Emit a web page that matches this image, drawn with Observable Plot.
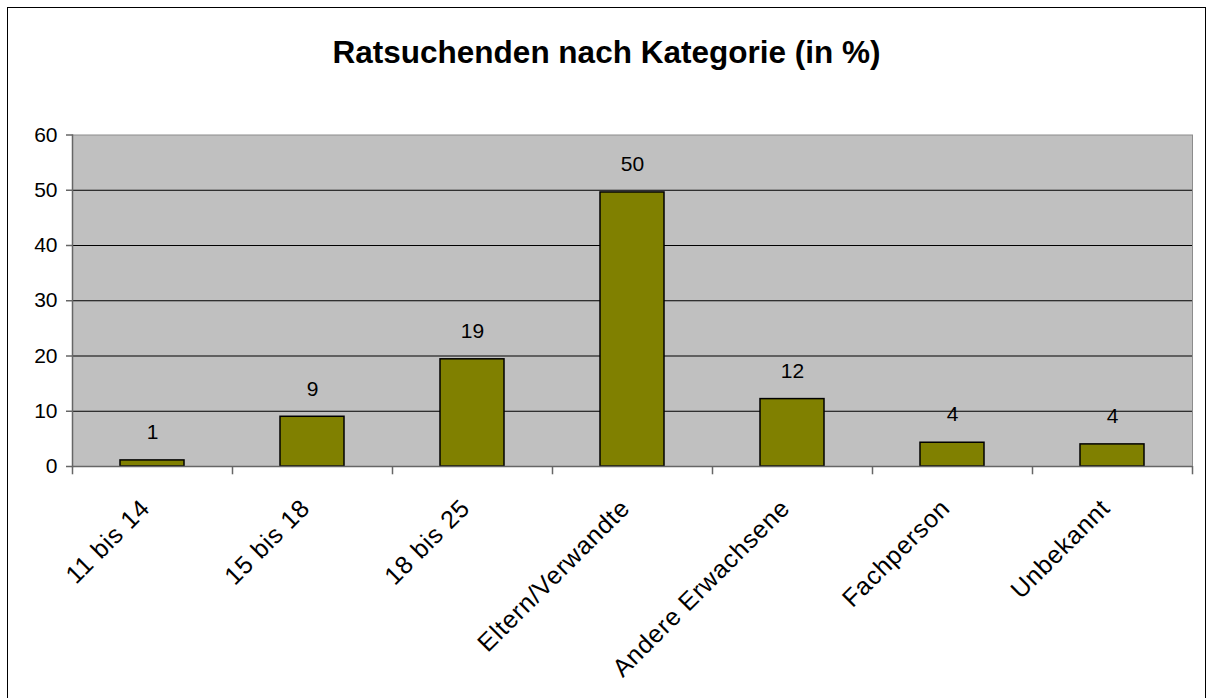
<!DOCTYPE html>
<html>
<head>
<meta charset="utf-8">
<script src="https://cdn.jsdelivr.net/npm/d3@7"></script>
<script src="https://cdn.jsdelivr.net/npm/@observablehq/plot@0.6"></script>
<style>
  html, body { margin: 0; padding: 0; background: #fff; overflow: hidden; }
  #wrap { position: relative; width: 1215px; height: 698px; font-family: "Liberation Sans", Arial, sans-serif; }
  #border { position: absolute; left: 7px; top: 7px; width: 1199px; height: 720px; border: 1.5px solid #000; box-sizing: border-box; }
  #title { position: absolute; left: 7px; width: 1199px; top: 34px; line-height: 36px; text-align: center; font-weight: bold; font-size: 31.5px; color: #000; }
  #chart { position: absolute; left: 0; top: 0; }
  .xlab text { letter-spacing: 0.8px; }
</style>
</head>
<body>
<div id="wrap">
  <div id="border"></div>
  <div id="title">Ratsuchenden nach Kategorie (in %)</div>
  <div id="chart"></div>
</div>
<script>
const categories = ["11 bis 14", "15 bis 18", "18 bis 25", "Eltern/Verwandte", "Andere Erwachsene", "Fachperson", "Unbekannt"];
const values = [1.1, 9.0, 19.4, 49.6, 12.2, 4.3, 4.0];
const yTicks = [0, 10, 20, 30, 40, 50, 60];

const data = categories.map((c, i) => ({cat: c, value: values[i]}));

const chart = Plot.plot({
  width: 1215,
  height: 698,
  marginLeft: 72,
  marginRight: 23,
  marginTop: 134.5,
  marginBottom: 232,
  style: {fontFamily: "'Liberation Sans', Arial, sans-serif", color: "#000", background: "transparent", overflow: "visible"},
  x: {domain: categories, paddingInner: 0.6, paddingOuter: 0.3, axis: null},
  y: {domain: [0, 60], axis: null},
  marks: [
    Plot.frame({fill: "#C0C0C0", stroke: "#8c8c8c"}),
    Plot.gridY(yTicks.filter(t => t > 0 && t < 60), {stroke: "#000", strokeOpacity: 1, strokeWidth: 1}),
    Plot.barY(data, {x: "cat", y: "value", fill: "#808000", stroke: "#000", strokeWidth: 1.5}),
    Plot.frame({anchor: "left", stroke: "#666", strokeWidth: 1.5}),
    Plot.ruleY([0], {stroke: "#666", strokeWidth: 1.5}),
    Plot.axisY({ticks: yTicks, label: null, tickSize: 6, tickPadding: 9, fontSize: 21, stroke: "#666", strokeWidth: 1.5}),
    Plot.ruleX(categories, {x: d => d, dx: -80, y1: () => 0, y2: () => -1.5, stroke: "#666", strokeWidth: 1.5}),
    Plot.ruleX([categories[categories.length - 1]], {x: d => d, dx: 80, y1: () => 0, y2: () => -1.5, stroke: "#666", strokeWidth: 1.5}),
    Plot.text(data, {x: "cat", frameAnchor: "bottom", text: "cat", rotate: -45, textAnchor: "end", dy: 43, dx: -1, fontSize: 25, fill: "#000", className: "xlab"}),
    Plot.text(data, {x: "cat", y: "value", text: d => String(Math.round(d.value)), dy: -28, fontSize: 21, fill: "#000"})
  ]
});
document.getElementById("chart").appendChild(chart);
</script>
</body>
</html>
